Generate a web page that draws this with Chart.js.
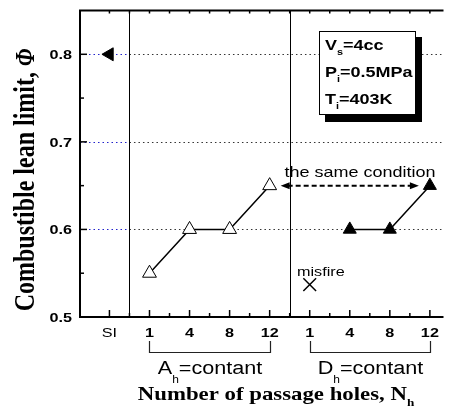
<!DOCTYPE html>
<html lang="en">
<head>
  <meta charset="UTF-8" />
  <title>Combustible lean limit vs number of passage holes</title>
  <script src="https://cdn.jsdelivr.net/npm/chart.js"></script>
  <style>
    html, body { margin: 0; padding: 0; background: #fff; }
    #wrap { width: 454px; height: 420px; overflow: hidden; }
  </style>
</head>
<body>
  <div id="wrap"><canvas id="chart" width="454" height="420"></canvas></div>

  <script>
    // x categories: spark ignition, then N_h for the two hole series
    const categories = ['SI', '1', '4', '8', '12', '1', '4', '8', '12'];
    const siPhi = [0.80];
    const areaConstPhi = [0.55, 0.60, 0.60, 0.65];   // A_h = const, N_h = 1, 4, 8, 12
    const diaConstPhi = [null, 0.60, 0.60, 0.65];    // D_h = const, N_h = 1 misfired
    const misfirePhi = [0.537];
    const yTickValues = [0.5, 0.6, 0.7, 0.8];
    const yGridValues = [0.6, 0.7, 0.8];
    const conditionLines = [['V', 's', '=4cc'], ['P', 'i', '=0.5MPa'], ['T', 'i', '=403K']];

    const SANS = '"Liberation Sans", Arial, sans-serif';
    const SERIF = '"Liberation Serif", "Times New Roman", serif';
    const SX = 1.2; // the original figure is a bit wider than tall

    const siPts = siPhi.map(v => ({ x: 0, y: v }));
    const areaPts = areaConstPhi.map((v, i) => ({ x: 1 + i, y: v }));
    const diaPts = diaConstPhi.map((v, i) => ({ x: 5 + i, y: v })).filter(p => p.y !== null);
    const misfirePts = misfirePhi.map(v => ({ x: 5, y: v }));

    function drawRich(ctx, segs, x, y, align) {
      let w = 0;
      segs.forEach(s => { ctx.font = s.font; w += ctx.measureText(s.t).width; });
      ctx.save();
      ctx.translate(x, y);
      ctx.scale(SX, 1);
      ctx.textAlign = 'left';
      ctx.textBaseline = 'alphabetic';
      ctx.fillStyle = '#000';
      let cx = align === 'center' ? -w / 2 : (align === 'right' ? -w : 0);
      segs.forEach(s => {
        ctx.font = s.font;
        ctx.fillText(s.t, cx, s.dy || 0);
        cx += ctx.measureText(s.t).width;
      });
      ctx.restore();
    }

    const backdrop = {
      id: 'backdrop',
      beforeDatasetsDraw(chart) {
        const { ctx, chartArea: a, scales: { x, y } } = chart;
        ctx.save();
        // dotted grid lines, blue in the SI column
        ctx.lineWidth = 1;
        ctx.setLineDash([1.5, 3]);
        const split = x.getPixelForValue(0.5);
        yGridValues.forEach(v => {
          const py = Math.round(y.getPixelForValue(v)) + 0.5;
          ctx.strokeStyle = '#2222cc';
          ctx.beginPath(); ctx.moveTo(a.left, py); ctx.lineTo(split, py); ctx.stroke();
          ctx.strokeStyle = '#333';
          ctx.beginPath(); ctx.moveTo(split, py); ctx.lineTo(a.right, py); ctx.stroke();
        });
        ctx.setLineDash([]);
        // group dividers
        ctx.strokeStyle = '#000';
        [0.5, 4.5].forEach(v => {
          const px = Math.round(x.getPixelForValue(v)) + 0.5;
          ctx.beginPath(); ctx.moveTo(px, a.top); ctx.lineTo(px, a.bottom); ctx.stroke();
        });
        ctx.restore();
      },
      afterDatasetsDraw(chart) {
        const { ctx, chartArea: a, scales: { x, y } } = chart;
        ctx.save();

        // frame (right side is cut off in the original)
        ctx.strokeStyle = '#000';
        ctx.lineWidth = 2;
        ctx.beginPath();
        ctx.moveTo(a.right, a.top); ctx.lineTo(a.left, a.top);
        ctx.lineTo(a.left, a.bottom); ctx.lineTo(a.right, a.bottom);
        ctx.stroke();

        // ticks
        ctx.lineWidth = 1.5;
        for (let v = 0; v <= 8; v += 0.5) {
          const px = x.getPixelForValue(v);
          const len = Number.isInteger(v) ? 7 : 4;
          ctx.beginPath();
          ctx.moveTo(px, a.bottom); ctx.lineTo(px, a.bottom - len);
          ctx.moveTo(px, a.top); ctx.lineTo(px, a.top + 3);
          ctx.stroke();
        }
        for (let v = 0.55; v < 0.85; v += 0.05) {
          const py = y.getPixelForValue(v);
          const major = Math.abs(v * 10 - Math.round(v * 10)) < 1e-6;
          ctx.beginPath(); ctx.moveTo(a.left, py); ctx.lineTo(a.left + (major ? 7 : 4), py); ctx.stroke();
        }

        // tick labels
        yTickValues.forEach(v => {
          drawRich(ctx, [{ t: v.toFixed(1), font: 'bold 13.5px ' + SANS }], 72, y.getPixelForValue(v) + 5, 'right');
        });
        categories.forEach((c, i) => {
          const font = (c === 'SI' ? '' : 'bold ') + '13.5px ' + SANS;
          drawRich(ctx, [{ t: c, font }], x.getPixelForValue(i), 337, 'center');
        });

        // group brackets and their captions
        ctx.lineWidth = 1.2;
        ctx.strokeStyle = '#222';
        [[1, 4, 'A'], [5, 8, 'D']].forEach(([from, to, sym]) => {
          const x1 = Math.round(x.getPixelForValue(from)) + 0.5;
          const x2 = Math.round(x.getPixelForValue(to)) + 0.5;
          ctx.beginPath();
          ctx.moveTo(x1, 341); ctx.lineTo(x1, 352.5); ctx.lineTo(x2, 352.5); ctx.lineTo(x2, 341);
          ctx.stroke();
          drawRich(ctx, [
            { t: sym, font: '18px ' + SANS },
            { t: 'h', font: '10px ' + SANS, dy: 9 },
            { t: '=contant', font: '18px ' + SANS }
          ], (x1 + x2) / 2, 374, 'center');
        });

        // axis titles
        drawRich(ctx, [
          { t: 'Number of passage holes, N', font: 'bold 19px ' + SERIF },
          { t: 'h', font: 'bold 11px ' + SERIF, dy: 6 }
        ], 276, 400, 'center');

        ctx.save();
        ctx.translate(34, 180);
        ctx.rotate(-Math.PI / 2);
        ctx.scale(1, SX);
        ctx.fillStyle = '#000';
        ctx.textBaseline = 'alphabetic';
        const t1 = 'Combustible lean limit, ', t2 = 'Φ';
        ctx.font = 'bold 24px ' + SERIF;
        const w1 = ctx.measureText(t1).width;
        ctx.font = 'italic bold 22px ' + SERIF;
        const w2 = ctx.measureText(t2).width;
        let cx = -(w1 + w2) / 2;
        ctx.font = 'bold 24px ' + SERIF;
        ctx.fillText(t1, cx, 0);
        ctx.font = 'italic bold 22px ' + SERIF;
        ctx.fillText(t2, cx + w1, 0);
        ctx.restore();

        // "the same condition" double arrow
        const ay = y.getPixelForValue(0.65);
        const ax1 = x.getPixelForValue(4) + 11;
        const ax2 = x.getPixelForValue(8) - 11;
        ctx.strokeStyle = '#000';
        ctx.fillStyle = '#000';
        ctx.lineWidth = 2;
        ctx.setLineDash([5, 3]);
        ctx.beginPath(); ctx.moveTo(ax1 + 7, ay); ctx.lineTo(ax2 - 7, ay); ctx.stroke();
        ctx.setLineDash([]);
        ctx.beginPath();
        ctx.moveTo(ax1, ay); ctx.lineTo(ax1 + 9, ay - 3.5); ctx.lineTo(ax1 + 9, ay + 3.5); ctx.closePath();
        ctx.moveTo(ax2, ay); ctx.lineTo(ax2 - 9, ay - 3.5); ctx.lineTo(ax2 - 9, ay + 3.5); ctx.closePath();
        ctx.fill();
        drawRich(ctx, [{ t: 'the same condition', font: '15px ' + SANS }], 360, 177, 'center');

        drawRich(ctx, [{ t: 'misfire', font: '13.5px ' + SANS }], 297, 276, 'left');

        // conditions box with drop shadow
        ctx.fillStyle = '#000';
        ctx.fillRect(325, 37, 97, 85);
        ctx.fillStyle = '#fff';
        ctx.fillRect(319, 31, 97, 84);
        ctx.lineWidth = 1;
        ctx.strokeStyle = '#000';
        ctx.strokeRect(319.5, 31.5, 96, 83);
        conditionLines.forEach((ln, i) => {
          drawRich(ctx, [
            { t: ln[0], font: 'bold 15px ' + SANS },
            { t: ln[1], font: 'bold 9px ' + SANS, dy: 5 },
            { t: ln[2], font: 'bold 15px ' + SANS }
          ], 325, 50 + i * 27, 'left');
        });

        ctx.restore();
      }
    };

    new Chart(document.getElementById('chart'), {
      type: 'scatter',
      data: {
        datasets: [
          {
            label: 'SI',
            data: siPts,
            pointStyle: 'triangle',
            pointRotation: -90,
            pointRadius: 7.5,
            pointBackgroundColor: '#000',
            pointBorderColor: '#000',
            pointBorderWidth: 1
          },
          {
            label: 'A_h = const',
            data: areaPts,
            showLine: true,
            borderColor: '#000',
            borderWidth: 1.5,
            pointStyle: 'triangle',
            pointRadius: 8,
            pointBackgroundColor: '#fff',
            pointBorderColor: '#000',
            pointBorderWidth: 1
          },
          {
            label: 'D_h = const',
            data: diaPts,
            showLine: true,
            borderColor: '#000',
            borderWidth: 1.5,
            pointStyle: 'triangle',
            pointRadius: 7.5,
            pointBackgroundColor: '#000',
            pointBorderColor: '#000',
            pointBorderWidth: 1
          },
          {
            label: 'misfire',
            data: misfirePts,
            pointStyle: 'crossRot',
            pointRadius: 9,
            pointBorderColor: '#000',
            pointBorderWidth: 1.5
          }
        ]
      },
      options: {
        responsive: false,
        animation: false,
        devicePixelRatio: 1,
        events: [],
        layout: { padding: { left: 80, top: 10, right: 0, bottom: 103 } },
        scales: {
          x: { type: 'linear', min: -0.735, max: 8.34, display: false },
          y: { type: 'linear', min: 0.5, max: 0.85, display: false }
        },
        plugins: {
          legend: { display: false },
          tooltip: { enabled: false }
        },
        elements: { point: { hitRadius: 0 } },
        datasets: { scatter: { clip: false } }
      },
      plugins: [backdrop]
    });
  </script>
</body>
</html>
